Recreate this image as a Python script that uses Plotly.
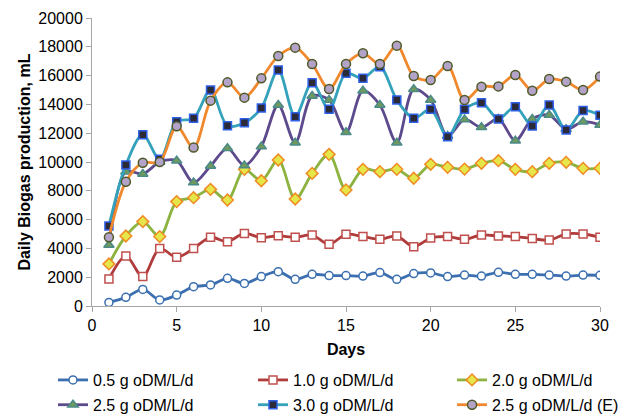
import plotly.graph_objects as go

days = list(range(1, 31))

s05 = [250, 600, 1150, 420, 760, 1340, 1460, 1920, 1570, 2040,
       2380, 1850, 2200, 2110, 2110, 2080, 2320, 1850, 2250, 2300,
       2040, 2150, 2080, 2340, 2200, 2200, 2150, 2080, 2150, 2130]
s10 = [1880, 3470, 2040, 4000, 3380, 4000, 4770, 4470, 5040, 4740,
       4880, 4770, 4930, 4280, 4980, 4820, 4630, 4860, 4120, 4720,
       4820, 4630, 4930, 4860, 4820, 4680, 4580, 5000, 5000, 4770]
s20 = [2920, 4860, 5860, 4820, 7250, 7520, 8100, 7360, 9490, 8700,
       10140, 7430, 9210, 10530, 8060, 9490, 9330, 9490, 8870, 9840,
       9630, 9510, 9910, 10090, 9490, 9330, 9910, 9980, 9560, 9560]
s25 = [4240, 9330, 9170, 10000, 10090, 8570, 9720, 10950, 9750, 11070,
       13960, 11340, 14580, 14310, 12060, 14950, 13960, 11340, 15050, 14310,
       11800, 12960, 12410, 12990, 11480, 12990, 13260, 12270, 12800, 12570]
s30 = [5560, 9790, 11900, 10190, 12800, 13030, 15000, 12520, 12730, 13750,
       16390, 13150, 15510, 13660, 16160, 15810, 16620, 14310, 13030, 13660,
       11760, 13660, 14120, 12990, 13840, 12500, 13960, 12220, 13570, 13240]
s25e = [4770, 8630, 9950, 10000, 12480, 11000, 14260, 15530, 14470, 15810,
        17360, 17940, 16810, 15070, 16810, 17550, 16810, 18080, 15970, 15700,
        16670, 14310, 15230, 15250, 16040, 14950, 15760, 15580, 15000, 15930]

names = ["0.5 g oDM/L/d", "1.0 g oDM/L/d", "2.0 g oDM/L/d",
         "2.5 g oDM/L/d", "3.0 g oDM/L/d", "2.5 g oDM/L/d (E)"]
series = [s05, s10, s20, s25, s30, s25e]
legend_ids = ["legend", "legend2", "legend3", "legend", "legend2", "legend3"]

styles = [
    dict(line="#3b6fb0", symbol="circle", fill="white", edge="#3b6fb0", size=8),
    dict(line="#b03b3b", symbol="square", fill="white", edge="#c0504d", size=8),
    dict(line="#8cb33f", symbol="diamond", fill="#e4e64a", edge="#f08a24", size=9),
    dict(line="#5d4a8c", symbol="triangle-up", fill="#6f9a5c", edge="#4c8a8a", size=9),
    dict(line="#33a2ba", symbol="square", fill="#2a2a38", edge="#2f60e8", size=8),
    dict(line="#f0892e", symbol="circle", fill="#b3a3c8", edge="#4f5a28", size=9),
]

fig = go.Figure()
for i, (name, vals, st, lg) in enumerate(zip(names, series, styles, legend_ids)):
    fig.add_trace(go.Scatter(
        x=days, y=vals, name=name, mode="lines+markers",
        legend=lg, legendgroup="g%d" % i,
        line=dict(color=st["line"], width=2.8, shape="spline", smoothing=0.9),
        marker=dict(symbol=st["symbol"], size=st["size"], color=st["fill"],
                    line=dict(color=st["edge"], width=1.5)),
    ))

font_family = "Liberation Sans, Arial, sans-serif"
leg_common = dict(orientation="v", yanchor="top", y=-0.198, xanchor="left",
                  font=dict(size=16, family=font_family), tracegroupgap=1,
                  bgcolor="rgba(0,0,0,0)")
# page body has an 8px default margin, so the figure is sized to fit the window
fig.update_layout(
    width=620, height=411,
    margin=dict(l=84, r=28, t=10, b=113, autoexpand=False),
    plot_bgcolor="white", paper_bgcolor="white",
    font=dict(family=font_family, size=16, color="black"),
    showlegend=True,
    legend=dict(x=-0.0768, **leg_common),
    legend2=dict(x=0.3169, **leg_common),
    legend3=dict(x=0.7087, **leg_common),
    xaxis=dict(range=[0, 30], tickvals=[0, 5, 10, 15, 20, 25, 30],
               automargin=False,
               showgrid=False, zeroline=False, showline=True, linecolor="#a6a6a6",
               linewidth=1, ticks="outside", ticklen=5, tickcolor="#a6a6a6",
               tickfont=dict(size=16),
               title=dict(text="<b>Days</b>", font=dict(size=16), standoff=10)),
    yaxis=dict(range=[0, 20000], tickvals=list(range(0, 20001, 2000)),
               tickformat="d", automargin=False,
               showgrid=False, zeroline=False, showline=True, linecolor="#a6a6a6",
               linewidth=1, ticks="outside", ticklen=5, tickcolor="#a6a6a6",
               tickfont=dict(size=16),
               title=dict(text="<b>Daily Biogas production, mL</b>", font=dict(size=16), standoff=3)),
)

fig.write_html("out.html")
